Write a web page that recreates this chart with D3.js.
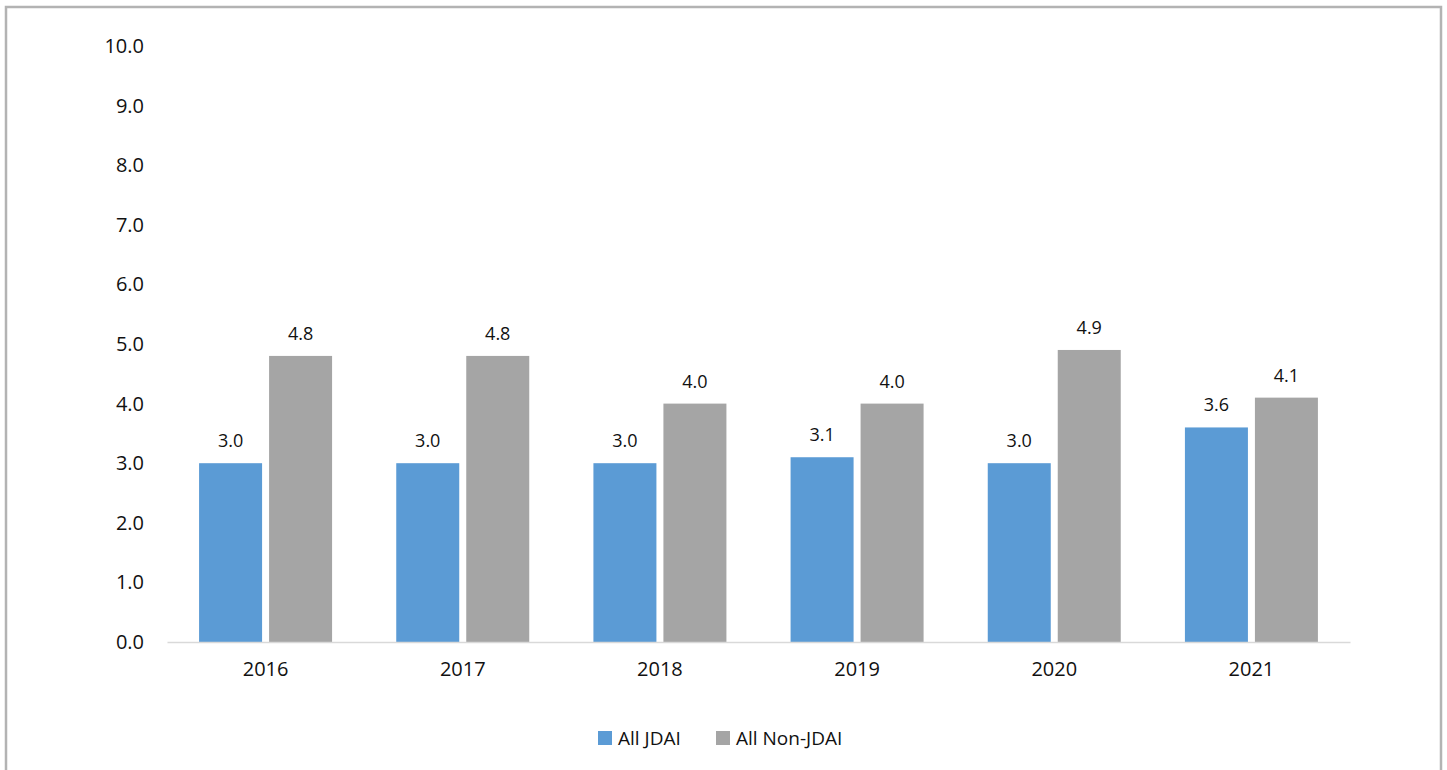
<!DOCTYPE html>
<html>
<head>
<meta charset="utf-8">
<script src="https://cdn.jsdelivr.net/npm/d3@7"></script>
<style>
  body { margin: 0; background: #fff; }
  svg { display: block; font-family: "Open Sans", sans-serif; }
</style>
</head>
<body>
<svg id="chart" width="1447" height="770"></svg>
<script>
const years = ["2016", "2017", "2018", "2019", "2020", "2021"];
const seriesNames = ["All JDAI", "All Non-JDAI"];
const jdai = [3.0, 3.0, 3.0, 3.1, 3.0, 3.6];
const nonJdai = [4.8, 4.8, 4.0, 4.0, 4.9, 4.1];
const yTicks = [0, 1, 2, 3, 4, 5, 6, 7, 8, 9, 10];
const colors = ["#5b9bd5", "#a5a5a5"];

const chartSize = { width: 1447, height: 770 };
const margin = { left: 167, right: 97, top: 46, bottom: 128 };
const width = chartSize.width - margin.left - margin.right;
const height = chartSize.height - margin.top - margin.bottom;

const svg = d3.select("#chart");

// outer frame (bottom edge runs off the page)
svg.append("path")
    .attr("d", "M6,770 V7 H1441 V770")
    .attr("fill", "none")
    .attr("stroke", "#b3b3b3")
    .attr("stroke-width", 2.5);

const g = svg.append("g")
    .attr("transform", `translate(${margin.left},${margin.top})`);

const x = d3.scaleBand().domain(years).range([0, width]);
const x1 = d3.scaleBand().domain(seriesNames).range([x.bandwidth() / 2 - 66.5, x.bandwidth() / 2 + 66.5]).paddingInner(0.1);
const y = d3.scaleLinear().domain([0, 10]).range([height, 0]);

const yAxis = g.append("g")
    .call(d3.axisLeft(y).tickValues(yTicks).tickFormat(d3.format(".1f")).tickSize(0).tickPadding(23));
yAxis.select(".domain").remove();
yAxis.selectAll("text").attr("font-size", 20).attr("fill", "#111").attr("font-family", "Open Sans");

const rows = years.map((yr, i) => ({ year: yr, values: [jdai[i], nonJdai[i]] }));

const groups = g.selectAll(".grp").data(rows).enter().append("g")
    .attr("transform", d => `translate(${x(d.year)},0)`);

groups.selectAll("rect")
    .data(d => d.values.map((v, k) => ({ name: seriesNames[k], v, k })))
    .enter().append("rect")
    .attr("x", d => x1(d.name))
    .attr("width", x1.bandwidth())
    .attr("y", d => y(d.v))
    .attr("height", d => height - y(d.v))
    .attr("fill", d => colors[d.k]);

groups.selectAll("text.val")
    .data(d => d.values.map((v, k) => ({ name: seriesNames[k], v, k })))
    .enter().append("text")
    .attr("class", "val")
    .attr("x", d => x1(d.name) + x1.bandwidth() / 2)
    .attr("y", d => y(d.v) - 16)
    .attr("text-anchor", "middle")
    .attr("font-size", 18)
    .attr("fill", "#111")
    .text(d => d3.format(".1f")(d.v));

const xAxis = g.append("g")
    .attr("transform", `translate(0,${height})`)
    .call(d3.axisBottom(x).tickSize(0).tickPadding(20));
xAxis.select(".domain").attr("stroke", "#d9d9d9").attr("stroke-width", 1.5);
xAxis.selectAll("text").attr("font-size", 20).attr("fill", "#111").attr("font-family", "Open Sans");

// legend
const legend = svg.append("g").attr("transform", "translate(598,738)");
const legendX = [0, 118];
seriesNames.forEach((name, k) => {
    const item = legend.append("g").attr("transform", `translate(${legendX[k]},0)`);
    item.append("rect").attr("x", 0).attr("y", -7).attr("width", 14).attr("height", 14).attr("fill", colors[k]);
    item.append("text").attr("x", 20).attr("y", 0).attr("dy", "0.35em")
        .attr("font-size", 19).attr("fill", "#111").text(name);
});
</script>
</body>
</html>
